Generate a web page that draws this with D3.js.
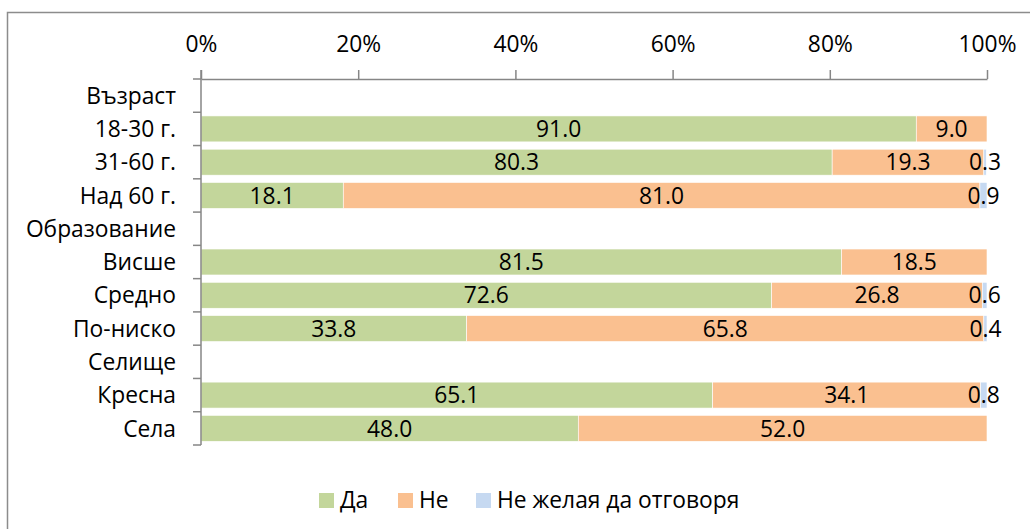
<!DOCTYPE html>
<html><head><meta charset="utf-8">
<script src="https://cdn.jsdelivr.net/npm/d3@7"></script>
<style>
html,body{margin:0;padding:0;background:#fff;}
svg{display:block;font-family:"Open Sans",sans-serif;}
</style></head>
<body>
<svg id="c" width="1030" height="529"></svg>
<script>
const categories = ["Възраст","18-30 г.","31-60 г.","Над 60 г.","Образование","Висше","Средно","По-ниско","Селище","Кресна","Села"];
const seriesNames = ["Да","Не","Не желая да отговоря"];
const da =    [null, 91.0, 80.3, 18.1, null, 81.5, 72.6, 33.8, null, 65.1, 48.0];
const ne =    [null,  9.0, 19.3, 81.0, null, 18.5, 26.8, 65.8, null, 34.1, 52.0];
const noAns = [null,  0,    0.3,  0.9, null,  0,    0.6,  0.4, null,  0.8,  0];
const tickValues = [0,20,40,60,80,100];
const colors = ["#C3D69B","#FAC090","#C6D9F1"];

const svg = d3.select("#c");
const FS = 22.8;
// outer frame
svg.append("rect").attr("x",7.5).attr("y",12.5).attr("width",1040).attr("height",540)
  .attr("fill","none").attr("stroke","#8c8c8c").attr("stroke-width",1.5);

const x = d3.scaleLinear().domain([0,100]).range([201,987]);
const y = d3.scaleBand().domain(categories).range([79,445]).paddingInner(0.22).paddingOuter(0.11);

const series = [da, ne, noAns];
const rows = categories.map((c,i)=>({cat:c, vals:series.map(s=>s[i])}));

const g = svg.append("g");
rows.forEach(r=>{
  if (r.vals[0]===null) return;
  let acc = 0;
  r.vals.forEach((v,k)=>{
    if (!v) { return; }
    const x0 = acc, x1 = acc + v;
    acc = x1;
    g.append("rect").attr("x",x(x0)).attr("y",y(r.cat)).attr("width",x(x1)-x(x0)).attr("height",y.bandwidth())
      .attr("fill",colors[k]).attr("stroke","#fff").attr("stroke-width",0.6);
  });
});
// labels
rows.forEach(r=>{
  if (r.vals[0]===null) return;
  let acc = 0;
  r.vals.forEach((v,k)=>{
    if (!v) return;
    const x0 = acc, x1 = acc + v; acc = x1;
    g.append("text").attr("x",x((x0+x1)/2)).attr("y",y(r.cat)+y.bandwidth()/2).attr("dy","0.36em")
      .attr("text-anchor","middle").attr("font-size",FS).attr("fill","#000").text(v.toFixed(1));
  });
});

// top axis
const ax = svg.append("g").attr("transform","translate(0,79)")
  .call(d3.axisTop(x).tickValues(tickValues).tickFormat(d=>d+"%").tickSize(9).tickSizeOuter(0));
ax.select(".domain").attr("stroke","#868686").attr("stroke-width",1.5);
ax.selectAll(".tick line").attr("stroke","#868686").attr("stroke-width",1.5);
ax.selectAll(".tick text").attr("font-size",FS).attr("font-family","'Open Sans',sans-serif").attr("fill","#000").attr("y",-27);

// left axis
const left = svg.append("g");
left.append("line").attr("x1",201).attr("x2",201).attr("y1",70).attr("y2",445).attr("stroke","#868686").attr("stroke-width",1.5);
const stepV = (445-79)/categories.length;
d3.range(categories.length+1).forEach(i=>{
  left.append("line").attr("x1",193).attr("x2",201).attr("y1",79+i*stepV).attr("y2",79+i*stepV).attr("stroke","#868686").attr("stroke-width",1.5);
});
categories.forEach(c=>{
  left.append("text").attr("x",176).attr("y",y(c)+y.bandwidth()/2).attr("dy","0.36em")
    .attr("text-anchor","end").attr("font-size",FS).attr("fill","#000").text(c);
});

// legend
const legX = [319,398,476];
seriesNames.forEach((n,k)=>{
  const lg = svg.append("g");
  lg.append("rect").attr("x",legX[k]).attr("y",493).attr("width",15).attr("height",15).attr("fill",colors[k]);
  lg.append("text").attr("x",legX[k]+21).attr("y",508).attr("font-size",FS).attr("fill","#000").text(n);
});
</script>
</body></html>
